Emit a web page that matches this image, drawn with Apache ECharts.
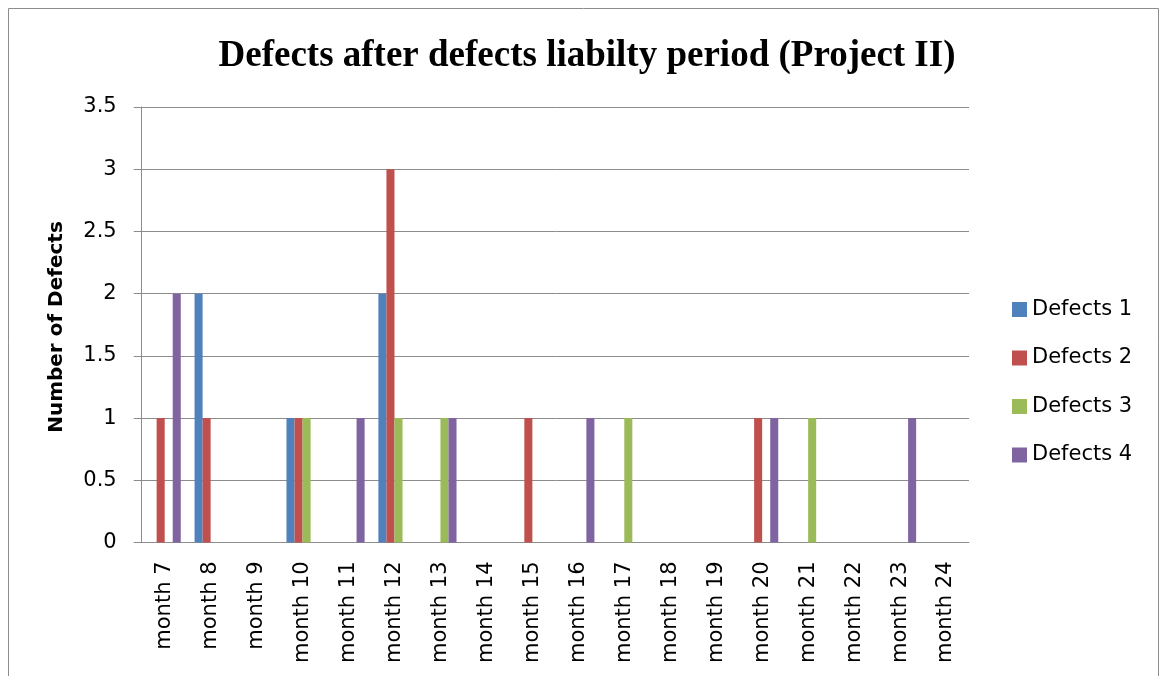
<!DOCTYPE html>
<html>
<head>
<meta charset="utf-8">
<script src="https://cdn.jsdelivr.net/npm/echarts@6/dist/echarts.min.js"></script>
<style>
  html, body { margin: 0; padding: 0; background: #fff; }
  #chart { width: 1165px; height: 676px; }
</style>
</head>
<body>
<div id="chart"></div>
<script>
const categories = ['month 7','month 8','month 9','month 10','month 11','month 12','month 13','month 14','month 15','month 16','month 17','month 18','month 19','month 20','month 21','month 22','month 23','month 24'];
const defects1 = [0,2,0,1,0,2,0,0,0,0,0,0,0,0,0,0,0,0];
const defects2 = [1,1,0,1,0,3,0,0,1,0,0,0,0,1,0,0,0,0];
const defects3 = [0,0,0,1,0,1,1,0,0,0,1,0,0,0,1,0,0,0];
const defects4 = [2,0,0,0,1,0,1,0,0,1,0,0,0,1,0,0,1,0];
const seriesNames = ['Defects 1','Defects 2','Defects 3','Defects 4'];
const seriesColors = ['#4F81BD','#C0504D','#9BBB59','#8064A2'];
const yTicks = {min: 0, max: 3.5, interval: 0.5};

const chart = echarts.init(document.getElementById('chart'), null, {renderer: 'canvas'});
const allData = [defects1, defects2, defects3, defects4];
const gridColor = '#8c8c8c';

chart.setOption({
  animation: false,
  backgroundColor: '#ffffff',
  title: {
    text: 'Defects after defects liabilty period (Project II)',
    left: 582,
    textAlign: 'center',
    top: 33,
    textStyle: {
      fontFamily: 'Liberation Serif',
      fontWeight: 'bold',
      fontSize: 37,
      color: '#000'
    }
  },
  legend: {
    orient: 'vertical',
    left: 1012,
    top: 299,
    padding: 0,
    itemWidth: 15,
    itemHeight: 15,
    itemGap: 27.5,
    icon: 'rect',
    data: seriesNames,
    textStyle: { fontFamily: 'DejaVu Sans', fontSize: 21, color: '#000' }
  },
  grid: { left: 141.7, right: 196, top: 107, bottom: 133.5, containLabel: false },
  xAxis: {
    type: 'category',
    data: categories,
    axisLine: { show: true, lineStyle: { color: gridColor, width: 1 } },
    axisTick: { show: false },
    axisLabel: {
      rotate: 90,
      margin: 19,
      fontFamily: 'DejaVu Sans',
      fontSize: 21,
      color: '#000',
      interval: 0
    }
  },
  yAxis: {
    type: 'value',
    min: yTicks.min,
    max: yTicks.max,
    interval: yTicks.interval,
    axisLine: { show: true, lineStyle: { color: gridColor, width: 1 } },
    axisTick: { show: true, length: 8, inside: false, lineStyle: { color: gridColor } },
    splitLine: { show: true, lineStyle: { color: gridColor, width: 1 } },
    axisLabel: {
      margin: 25,
      fontFamily: 'DejaVu Sans',
      fontSize: 21,
      color: '#000'
    }
  },
  graphic: [
    {
      type: 'rect',
      shape: { x: 8.5, y: 8.5, width: 1150, height: 700 },
      style: { fill: 'none', stroke: '#8c8c8c', lineWidth: 1 },
      silent: true
    },
    {
      type: 'text',
      x: 57,
      y: 327,
      rotation: Math.PI / 2,
      style: {
        text: 'Number of Defects',
        fontFamily: 'DejaVu Sans',
        fontWeight: 'bold',
        fontSize: 20,
        fill: '#000',
        textAlign: 'center',
        textVerticalAlign: 'middle'
      }
    }
  ],
  series: seriesNames.map((name, i) => ({
    name: name,
    type: 'bar',
    data: allData[i],
    barGap: '0%',
    barCategoryGap: '30%',
    itemStyle: { color: seriesColors[i] }
  }))
});
</script>
</body>
</html>
